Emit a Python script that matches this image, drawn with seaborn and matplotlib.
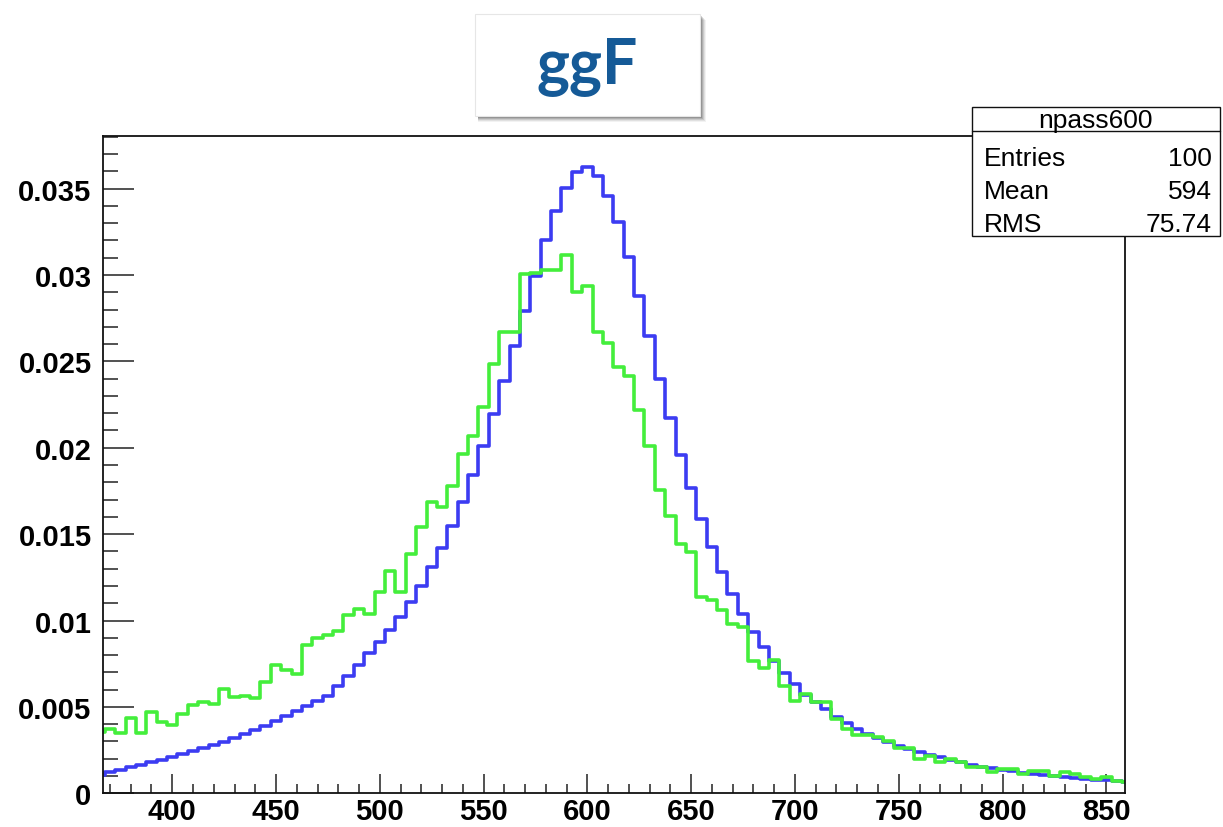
import matplotlib
matplotlib.use("Agg")
import matplotlib.pyplot as plt
import seaborn as sns
import numpy as np
from matplotlib.ticker import MultipleLocator
from matplotlib.patches import Rectangle

# ---------------- data ----------------
bin_centers = list(range(365, 861, 5))

blue_values = [
    0.00106, 0.00122, 0.00137, 0.00150, 0.00166, 0.00179, 0.00195, 0.00208,
    0.00228, 0.00245, 0.00262, 0.00281, 0.00299, 0.00318, 0.00343, 0.00366,
    0.00391, 0.00420, 0.00449, 0.00474, 0.00503, 0.00532, 0.00565, 0.00620,
    0.00680, 0.00740, 0.00810, 0.00877, 0.00947, 0.01019, 0.01105, 0.01201,
    0.01308, 0.01418, 0.01549, 0.01688, 0.01842, 0.02010, 0.02195, 0.02388,
    0.02590, 0.02793, 0.02995, 0.03204, 0.03368, 0.03501, 0.03594, 0.03623,
    0.03574, 0.03458, 0.03304, 0.03102, 0.02880, 0.02644, 0.02400, 0.02174,
    0.01960, 0.01765, 0.01587, 0.01427, 0.01282, 0.01153, 0.01038, 0.00935,
    0.00845, 0.00767, 0.00696, 0.00630, 0.00570, 0.00530, 0.00488, 0.00440,
    0.00407, 0.00372, 0.00343, 0.00318, 0.00299, 0.00276, 0.00256, 0.00237,
    0.00222, 0.00208, 0.00195, 0.00179, 0.00166, 0.00154, 0.00145, 0.00137,
    0.00127, 0.00119, 0.00112, 0.00104, 0.00098, 0.00093, 0.00087, 0.00083,
    0.00079, 0.00075, 0.00071, 0.00065,
]

green_values = [
    0.00357, 0.00372, 0.00347, 0.00434, 0.00347, 0.00472, 0.00414, 0.00395,
    0.00459, 0.00511, 0.00527, 0.00517, 0.00604, 0.00556, 0.00561, 0.00550,
    0.00642, 0.00743, 0.00714, 0.00688, 0.00856, 0.00898, 0.00917, 0.00938,
    0.01030, 0.01069, 0.01038, 0.01167, 0.01288, 0.01163, 0.01385, 0.01543,
    0.01684, 0.01655, 0.01780, 0.01964, 0.02066, 0.02237, 0.02486, 0.02670,
    0.02670, 0.03005, 0.03010, 0.03029, 0.03029, 0.03115, 0.02900, 0.02938,
    0.02671, 0.02606, 0.02468, 0.02413, 0.02216, 0.02012, 0.01755, 0.01607,
    0.01443, 0.01395, 0.01134, 0.01120, 0.01061, 0.00980, 0.00961, 0.00768,
    0.00724, 0.00770, 0.00619, 0.00536, 0.00572, 0.00530, 0.00530, 0.00430,
    0.00370, 0.00338, 0.00338, 0.00324, 0.00305, 0.00260, 0.00260, 0.00199,
    0.00218, 0.00180, 0.00199, 0.00180, 0.00150, 0.00150, 0.00125, 0.00141,
    0.00141, 0.00112, 0.00131, 0.00131, 0.00098, 0.00125, 0.00112, 0.00093,
    0.00083, 0.00096, 0.00073, 0.00064,
]

x_ticks = [400, 450, 500, 550, 600, 650, 700, 750, 800, 850]
y_ticks = [0, 0.005, 0.01, 0.015, 0.02, 0.025, 0.03, 0.035]
y_tick_labels = ["0", "0.005", "0.01", "0.015", "0.02", "0.025", "0.03", "0.035"]

title_text = "ggF"
stats_title = "npass600"
stats_labels = ["Entries", "Mean", "RMS"]
stats_values = ["100", "594", "75.74"]

# ---------------- style ----------------
sns.set_style("white")
plt.rcParams["font.family"] = ["Liberation Sans", "DejaVu Sans"]
plt.rcParams["text.color"] = "black"
plt.rcParams["xtick.labelcolor"] = "black"
plt.rcParams["ytick.labelcolor"] = "black"

W, H = 1223, 828
fig = plt.figure(figsize=(W / 100, H / 100), dpi=100)


def fx(px):
    return px / W


def fy(py):
    return 1 - py / H


ax_left, ax_right, ax_top, ax_bottom = 102.7, 1125, 136.7, 794.3
ax = fig.add_axes([fx(ax_left), fy(ax_bottom), fx(ax_right - ax_left),
                   (ax_bottom - ax_top) / H])

BLUE = "#3c3cf2"
GREEN = "#44ee3c"

sns.histplot(x=bin_centers, weights=blue_values, binwidth=5,
             binrange=(362.5, 862.5), element="step", fill=False,
             color=BLUE, linewidth=2.6, ax=ax)
sns.histplot(x=bin_centers, weights=green_values, binwidth=5,
             binrange=(362.5, 862.5), element="step", fill=False,
             color=GREEN, linewidth=2.6, ax=ax)

ax.set_xlim(366.5, 859)
ax.set_ylim(0, 0.03806)
ax.set_xlabel("")
ax.set_ylabel("")

ax.set_xticks(x_ticks)
ax.set_xticklabels([str(t) for t in x_ticks], fontsize=21, fontweight="bold",
                   color="black")
ax.set_yticks(y_ticks)
ax.set_yticklabels(y_tick_labels, fontsize=21, fontweight="bold",
                   color="black")
ax.xaxis.set_minor_locator(MultipleLocator(10))
ax.yaxis.set_minor_locator(MultipleLocator(0.001))

ax.tick_params(axis="both", which="both", direction="in", top=False,
               right=False, bottom=True, left=True, color="#333333",
               width=1.2)
ax.tick_params(axis="y", which="major", length=22, pad=8)
ax.tick_params(axis="y", which="minor", length=11)
ax.tick_params(axis="x", which="major", length=14, pad=3)
ax.tick_params(axis="x", which="minor", length=6.7)

for s in ax.spines.values():
    s.set_visible(True)
    s.set_color("#111111")
    s.set_linewidth(1.3)

# ---------------- title box with shadow ----------------
bx0, by0, bx1, by1 = 475, 15, 700, 117
for i, a in enumerate([0.05, 0.07, 0.10, 0.13, 0.17]):
    off = 6 - i
    fig.add_artist(Rectangle((fx(bx0 + 3), fy(by1 + off)),
                             fx(bx1 - bx0 + off - 3), (by1 - by0) / H,
                             transform=fig.transFigure, facecolor="black",
                             edgecolor="none", alpha=a, zorder=3))
fig.add_artist(Rectangle((fx(bx0), fy(by1)), fx(bx1 - bx0), (by1 - by0) / H,
                         transform=fig.transFigure, facecolor="white",
                         edgecolor="#e6e6e6", linewidth=0.8, zorder=4))
fig.text(fx(587), fy(83.5), title_text, ha="center", va="baseline",
         fontsize=45, fontweight="bold", color="#155a97",
         family=["Lato", "DejaVu Sans"], zorder=5)

# ---------------- stats box ----------------
sx0, sy0, sx1, sy1, sep = 971.7, 108.3, 1220, 236.7, 131.7
fig.add_artist(Rectangle((fx(sx0), fy(sy1)), fx(sx1 - sx0), (sy1 - sy0) / H,
                         transform=fig.transFigure, facecolor="white",
                         edgecolor="#111111", linewidth=1.0, zorder=3))
fig.add_artist(plt.Line2D([fx(sx0), fx(sx1)], [fy(sep), fy(sep)],
                          transform=fig.transFigure, color="#111111",
                          linewidth=1.0, zorder=4))
fig.text(fx((sx0 + sx1) / 2), fy(121), stats_title, ha="center",
         va="center", fontsize=19, color="black", zorder=5)
row_y = [159.3, 191.7, 225]
for lab, val, ry in zip(stats_labels, stats_values, row_y):
    fig.text(fx(984), fy(ry), lab, ha="left", va="center", fontsize=19,
             color="black", zorder=5)
    fig.text(fx(1212), fy(ry), val, ha="right", va="center", fontsize=19,
             color="black", zorder=5)

fig.savefig("out.png", dpi=100)
